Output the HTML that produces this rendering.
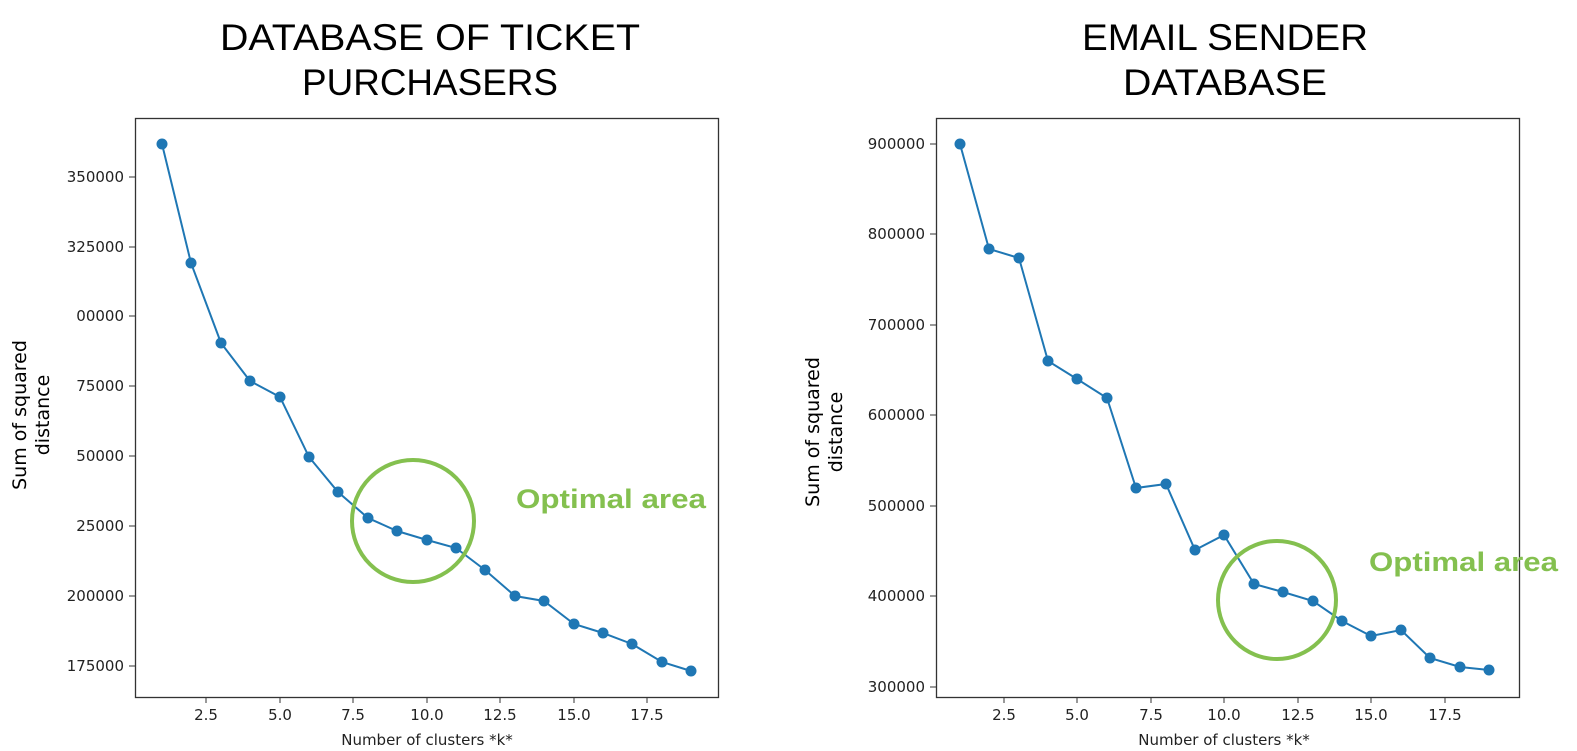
<!DOCTYPE html>
<html><head><meta charset="utf-8"><style>
body{margin:0;background:#fff;}
svg{display:block;font-family:"DejaVu Sans","Liberation Sans",sans-serif;}
.t{font-family:"Liberation Sans",sans-serif;font-size:37px;fill:#000;text-anchor:middle;}
.tk{font-size:15px;fill:#222;}
.o{font-family:"Liberation Sans",sans-serif;font-weight:bold;font-size:27px;fill:#84c04f;}
</style></head><body>
<svg width="1577" height="751" viewBox="0 0 1577 751">
<text class="t" x="430" y="50" textLength="420" lengthAdjust="spacingAndGlyphs">DATABASE OF TICKET</text>
<text class="t" x="430" y="95" textLength="256" lengthAdjust="spacingAndGlyphs">PURCHASERS</text>
<text class="t" x="1225" y="50" textLength="286" lengthAdjust="spacingAndGlyphs">EMAIL SENDER</text>
<text class="t" x="1225" y="95" textLength="204" lengthAdjust="spacingAndGlyphs">DATABASE</text>

<!-- left -->
<rect x="135.5" y="118.5" width="583" height="579" fill="none" stroke="#333" stroke-width="1.3"/>
<g class="tk" text-anchor="end">
<text x="124" y="182">350000</text><line x1="129" x2="135" y1="177" y2="177" stroke="#333"/>
<text x="124" y="252">325000</text><line x1="129" x2="135" y1="247" y2="247" stroke="#333"/>
<text x="124" y="321">00000</text><line x1="129" x2="135" y1="316" y2="316" stroke="#333"/>
<text x="124" y="391">75000</text><line x1="129" x2="135" y1="386" y2="386" stroke="#333"/>
<text x="124" y="461">50000</text><line x1="129" x2="135" y1="456" y2="456" stroke="#333"/>
<text x="124" y="531">25000</text><line x1="129" x2="135" y1="526" y2="526" stroke="#333"/>
<text x="124" y="601">200000</text><line x1="129" x2="135" y1="596" y2="596" stroke="#333"/>
<text x="124" y="671">175000</text><line x1="129" x2="135" y1="666" y2="666" stroke="#333"/>
</g>
<g class="tk" text-anchor="middle">
<text x="206" y="720">2.5</text><text x="280" y="720">5.0</text><text x="353" y="720">7.5</text><text x="427" y="720">10.0</text><text x="500" y="720">12.5</text><text x="574" y="720">15.0</text><text x="647" y="720">17.5</text>
</g>
<g stroke="#333"><line x1="206" x2="206" y1="697" y2="703"/><line x1="280" x2="280" y1="697" y2="703"/><line x1="353" x2="353" y1="697" y2="703"/><line x1="427" x2="427" y1="697" y2="703"/><line x1="500" x2="500" y1="697" y2="703"/><line x1="574" x2="574" y1="697" y2="703"/><line x1="647" x2="647" y1="697" y2="703"/></g>
<text class="tk" x="427" y="745" text-anchor="middle">Number of clusters *k*</text>
<text x="0" y="0" font-size="19" text-anchor="middle" transform="translate(26,415) rotate(-90)">Sum of squared</text>
<text x="0" y="0" font-size="19" text-anchor="middle" transform="translate(49,415) rotate(-90)">distance</text>
<polyline fill="none" stroke="#1f77b4" stroke-width="2" points="162,144 191,263 221,343 250,381 280,397 309,457 338,492 368,518 397,531 427,540 456,548 485,570 515,596 544,601 574,624 603,633 632,644 662,662 691,671"/>
<g fill="#1f77b4"><circle cx="162" cy="144" r="5.5"/><circle cx="191" cy="263" r="5.5"/><circle cx="221" cy="343" r="5.5"/><circle cx="250" cy="381" r="5.5"/><circle cx="280" cy="397" r="5.5"/><circle cx="309" cy="457" r="5.5"/><circle cx="338" cy="492" r="5.5"/><circle cx="368" cy="518" r="5.5"/><circle cx="397" cy="531" r="5.5"/><circle cx="427" cy="540" r="5.5"/><circle cx="456" cy="548" r="5.5"/><circle cx="485" cy="570" r="5.5"/><circle cx="515" cy="596" r="5.5"/><circle cx="544" cy="601" r="5.5"/><circle cx="574" cy="624" r="5.5"/><circle cx="603" cy="633" r="5.5"/><circle cx="632" cy="644" r="5.5"/><circle cx="662" cy="662" r="5.5"/><circle cx="691" cy="671" r="5.5"/></g>
<circle cx="413" cy="521" r="61" fill="none" stroke="#84c04f" stroke-width="4"/>
<text class="o" x="516" y="508" textLength="190" lengthAdjust="spacingAndGlyphs">Optimal area</text>

<!-- right -->
<rect x="936.5" y="118.5" width="583" height="579" fill="none" stroke="#333" stroke-width="1.3"/>
<g class="tk" text-anchor="end">
<text x="925" y="149">900000</text><line x1="930" x2="936" y1="144" y2="144" stroke="#333"/>
<text x="925" y="239">800000</text><line x1="930" x2="936" y1="234" y2="234" stroke="#333"/>
<text x="925" y="330">700000</text><line x1="930" x2="936" y1="325" y2="325" stroke="#333"/>
<text x="925" y="420">600000</text><line x1="930" x2="936" y1="415" y2="415" stroke="#333"/>
<text x="925" y="511">500000</text><line x1="930" x2="936" y1="506" y2="506" stroke="#333"/>
<text x="925" y="601">400000</text><line x1="930" x2="936" y1="596" y2="596" stroke="#333"/>
<text x="925" y="692">300000</text><line x1="930" x2="936" y1="687" y2="687" stroke="#333"/>
</g>
<g class="tk" text-anchor="middle">
<text x="1004" y="720">2.5</text><text x="1077" y="720">5.0</text><text x="1151" y="720">7.5</text><text x="1224" y="720">10.0</text><text x="1298" y="720">12.5</text><text x="1371" y="720">15.0</text><text x="1445" y="720">17.5</text>
</g>
<g stroke="#333"><line x1="1004" x2="1004" y1="697" y2="703"/><line x1="1077" x2="1077" y1="697" y2="703"/><line x1="1151" x2="1151" y1="697" y2="703"/><line x1="1224" x2="1224" y1="697" y2="703"/><line x1="1298" x2="1298" y1="697" y2="703"/><line x1="1371" x2="1371" y1="697" y2="703"/><line x1="1445" x2="1445" y1="697" y2="703"/></g>
<text class="tk" x="1224" y="745" text-anchor="middle">Number of clusters *k*</text>
<text x="0" y="0" font-size="19" text-anchor="middle" transform="translate(819,432) rotate(-90)">Sum of squared</text>
<text x="0" y="0" font-size="19" text-anchor="middle" transform="translate(842,432) rotate(-90)">distance</text>
<polyline fill="none" stroke="#1f77b4" stroke-width="2" points="960,144 989,249 1019,258 1048,361 1077,379 1107,398 1136,488 1166,484 1195,550 1224,535 1254,584 1283,592 1313,601 1342,621 1371,636 1401,630 1430,658 1460,667 1489,670"/>
<g fill="#1f77b4"><circle cx="960" cy="144" r="5.5"/><circle cx="989" cy="249" r="5.5"/><circle cx="1019" cy="258" r="5.5"/><circle cx="1048" cy="361" r="5.5"/><circle cx="1077" cy="379" r="5.5"/><circle cx="1107" cy="398" r="5.5"/><circle cx="1136" cy="488" r="5.5"/><circle cx="1166" cy="484" r="5.5"/><circle cx="1195" cy="550" r="5.5"/><circle cx="1224" cy="535" r="5.5"/><circle cx="1254" cy="584" r="5.5"/><circle cx="1283" cy="592" r="5.5"/><circle cx="1313" cy="601" r="5.5"/><circle cx="1342" cy="621" r="5.5"/><circle cx="1371" cy="636" r="5.5"/><circle cx="1401" cy="630" r="5.5"/><circle cx="1430" cy="658" r="5.5"/><circle cx="1460" cy="667" r="5.5"/><circle cx="1489" cy="670" r="5.5"/></g>
<circle cx="1277" cy="600" r="59" fill="none" stroke="#84c04f" stroke-width="4"/>
<text class="o" x="1369" y="571" textLength="189" lengthAdjust="spacingAndGlyphs">Optimal area</text>
</svg>
</body></html>
